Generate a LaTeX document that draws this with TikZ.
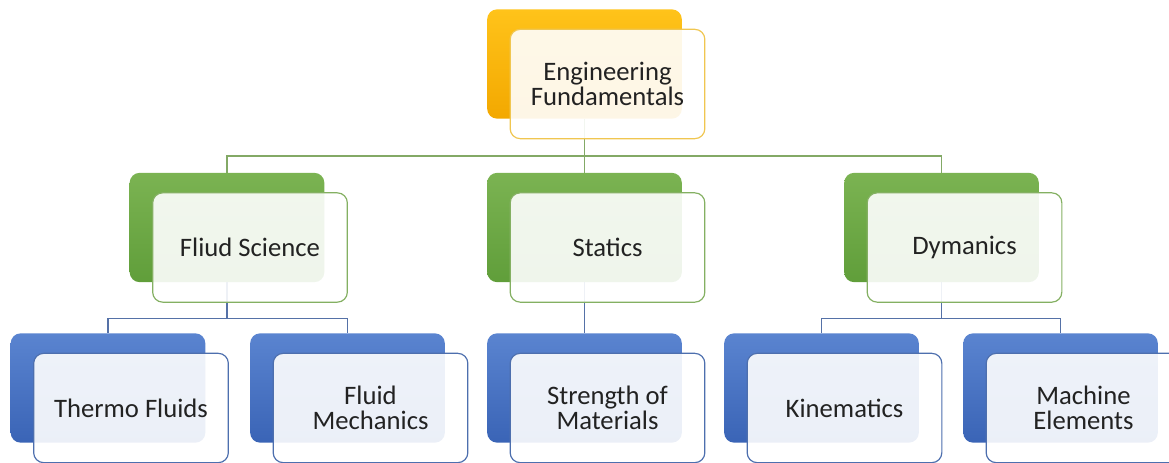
\documentclass[tikz,border=0pt]{standalone}
\usepackage{fontspec}
\setmainfont{Carlito}
\usepackage{tikz}
\usetikzlibrary{positioning,calc}

\definecolor{goldtop}{HTML}{FFC31A}
\definecolor{goldbot}{HTML}{F3A800}
\definecolor{goldedge}{HTML}{F0C650}
\definecolor{leaftop}{HTML}{7BB352}
\definecolor{leafbot}{HTML}{609E3A}
\definecolor{leafedge}{HTML}{84B062}
\definecolor{seatop}{HTML}{5A84D0}
\definecolor{seabot}{HTML}{3A64B6}
\definecolor{seaedge}{HTML}{4D6FAE}
\definecolor{inkgray}{HTML}{222222}

\pgfdeclarelayer{wires}
\pgfsetlayers{wires,main}

\tikzset{
  card/.style={rectangle, rounded corners=7.5pt, minimum width=146pt,
    minimum height=82pt, inner sep=0pt},
  backY/.style={card, top color=goldtop, bottom color=goldbot},
  backG/.style={card, top color=leaftop, bottom color=leafbot},
  backB/.style={card, top color=seatop, bottom color=seabot},
  front/.style={card, xshift=17.25pt, yshift=-15pt, fill=white,
    fill opacity=0.9, text opacity=1, line width=0.9pt, align=center,
    text=inkgray, font=\fontsize{20}{18.5}\selectfont},
  frontY/.style={front, draw=goldedge},
  frontG/.style={front, draw=leafedge},
  frontB/.style={front, draw=seaedge},
  linkG/.style={draw=leafedge!85!gray, line width=1.1pt},
  linkB/.style={draw=seaedge!85!gray, line width=1.1pt},
}

\begin{document}
\begin{tikzpicture}[x=0.75pt,y=-0.75pt]
\useasboundingbox (0,0) rectangle (1169,463);

% top
\node[backY] (engB) at (584.5,64) {};
\node[frontY] (eng) at (engB) {Engineering\\Fundamentals};

% middle row
\node[backG] (fluidB) at (227,227.5) {};
\node[frontG] (fluid) at (fluidB) {Fliud Science};
\node[backG] (staticsB) at (584.5,227.5) {};
\node[frontG] (statics) at (staticsB) {Statics};
\node[backG] (dynB) at (941.5,227.5) {};
\node[frontG] (dyn) at (dynB) {Dymanics};

% bottom row
\node[backB] (thermoB) at (108,388) {};
\node[frontB] (thermo) at (thermoB) {Thermo Fluids};
\node[backB] (mechB) at (347.5,388) {};
\node[frontB] (mech) at (mechB) {Fluid\\Mechanics};
\node[backB] (strengthB) at (584.5,388) {};
\node[frontB] (strength) at (strengthB) {Strength of\\Materials};
\node[backB] (kinB) at (821.5,388) {};
\node[frontB] (kin) at (kinB) {Kinematics};
\node[backB] (machineB) at (1060.5,388) {};
\node[frontB] (machine) at (machineB) {Machine\\Elements};

% connectors behind the cards
\begin{pgfonlayer}{wires}
\draw[linkG] (engB.south) -- ++(0,37) -| (fluidB.north);
\draw[linkG] (engB.south) -- (staticsB.north);
\draw[linkG] (engB.south) -- ++(0,37) -| (dynB.north);

\draw[linkB] (fluidB.south) -- ++(0,36) -| (thermoB.north);
\draw[linkB] (fluidB.south) -- ++(0,36) -| (mechB.north);
\draw[linkB] (staticsB.south) -- (strengthB.north);
\draw[linkB] (dynB.south) -- ++(0,36) -| (kinB.north);
\draw[linkB] (dynB.south) -- ++(0,36) -| (machineB.north);
\end{pgfonlayer}
\end{tikzpicture}
\end{document}
